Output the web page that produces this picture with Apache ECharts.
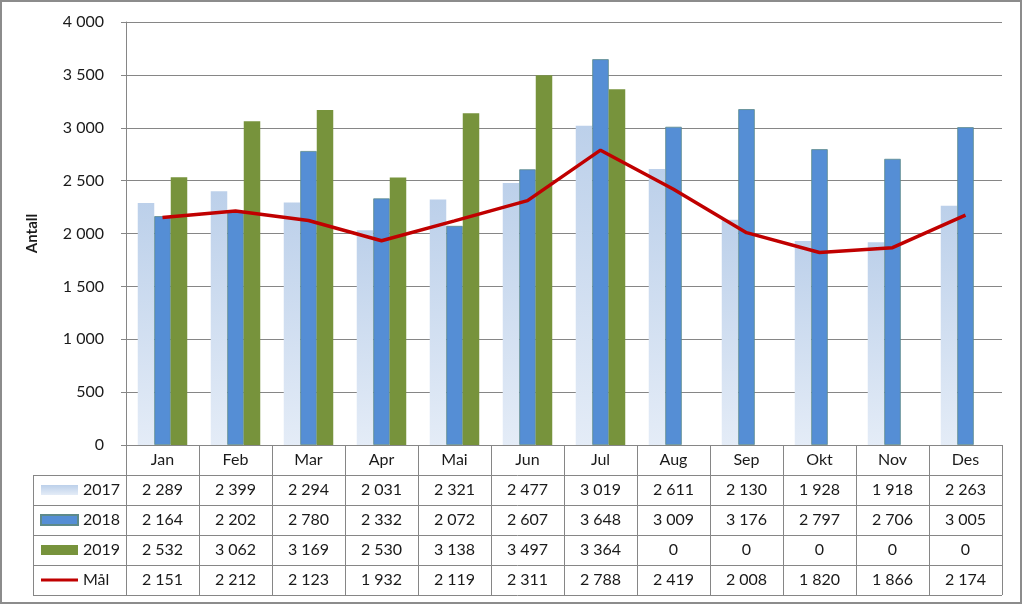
<!DOCTYPE html>
<html>
<head>
<meta charset="utf-8">
<script src="https://cdn.jsdelivr.net/npm/echarts@6/dist/echarts.min.js"></script>
<style>
html,body{margin:0;padding:0;background:#fff;}
#c{width:1024px;height:606px;}
</style>
</head>
<body>
<div id="c"></div>
<script>
const months = ['Jan','Feb','Mar','Apr','Mai','Jun','Jul','Aug','Sep','Okt','Nov','Des'];
const s2017 = [2289,2399,2294,2031,2321,2477,3019,2611,2130,1928,1918,2263];
const s2018 = [2164,2202,2780,2332,2072,2607,3648,3009,3176,2797,2706,3005];
const s2019 = [2532,3062,3169,2530,3138,3497,3364,0,0,0,0,0];
const maal  = [2151,2212,2123,1932,2119,2311,2788,2419,2008,1820,1866,2174];
const yTicks = [0,500,1000,1500,2000,2500,3000,3500,4000];

const fmt = n => String(n).replace(/\B(?=(\d{3})+(?!\d))/g, '\u00a0');
const FONT = 'Lato';
const GREY = '#868686';
const TXT = '#1a1a1a';

const chart = echarts.init(document.getElementById('c'), null, {renderer:'canvas'});

const tableLines = [];
[475.5,505.5,535.5,565.5,595.5].forEach(y => {
  tableLines.push({type:'line', shape:{x1:33, y1:y, x2:1002, y2:y}, style:{stroke:GREY, lineWidth:1}, silent:true});
});
tableLines.push({type:'line', shape:{x1:33.5, y1:475, x2:33.5, y2:596}, style:{stroke:GREY, lineWidth:1}, silent:true});
tableLines.push({type:'rect', shape:{x:1, y:1, width:1020, height:602}, style:{fill:null, stroke:'#8c8c8c', lineWidth:2}, silent:true});

chart.setOption({
  animation:false,
  textStyle:{fontFamily:FONT},
  grid:{left:126, right:22, top:22, bottom:161, containLabel:false},
  legend:{
    orient:'vertical', left:40, top:480, itemWidth:37, itemHeight:10, itemGap:10, padding:0,
    selectedMode:false,
    textStyle:{fontFamily:FONT, fontSize:16, color:TXT, lineHeight:20},
    data:[{name:'2017', icon:'rect'},{name:'2018', icon:'rect'},{name:'2019', icon:'rect'},
          {name:'Mål', icon:'path://M0,0 H40 V3.5 H0 Z', itemStyle:{color:'#c00000'}}]
  },
  xAxis:{
    type:'category', data:months,
    axisLine:{show:true, lineStyle:{color:GREY, width:1}},
    axisTick:{show:true, length:150, interval:0, alignWithLabel:false, lineStyle:{color:GREY, width:1}},
    axisLabel:{
      interval:0, margin:0, lineHeight:30, fontSize:16, color:TXT, fontFamily:FONT,
      formatter:(v, i) => [months[i], fmt(s2017[i]), fmt(s2018[i]), fmt(s2019[i]), fmt(maal[i])].join('\n')
    },
    splitLine:{show:false}
  },
  yAxis:{
    type:'value', min:yTicks[0], max:yTicks[yTicks.length-1], interval:500,
    name:'Antall', nameLocation:'middle', nameRotate:90, nameGap:86,
    nameTextStyle:{fontFamily:FONT, fontSize:15, fontWeight:'bold', color:TXT},
    axisLine:{show:true, lineStyle:{color:GREY, width:1}},
    axisTick:{show:true, length:5, lineStyle:{color:GREY}},
    axisLabel:{margin:22, fontSize:16, color:TXT, fontFamily:FONT, formatter:v => fmt(v)},
    splitLine:{show:true, lineStyle:{color:GREY, width:1}}
  },
  series:[
    {name:'2017', type:'bar', data:s2017, barWidth:16.5, barGap:'0%',
     itemStyle:{color:new echarts.graphic.LinearGradient(0,0,0,1,[{offset:0,color:'#bcd0ea'},{offset:1,color:'#e4ecf7'}])}},
    {name:'2018', type:'bar', data:s2018, barWidth:16.5, barGap:'0%',
     itemStyle:{color:'#558ed5', borderColor:'#5d8a8a', borderWidth:0.8}},
    {name:'2019', type:'bar', data:s2019, barWidth:16.5, barGap:'0%',
     itemStyle:{color:'#77933c'}},
    {name:'Mål', type:'line', data:maal, symbol:'none', z:5,
     lineStyle:{color:'#c00000', width:3.5}, itemStyle:{color:'#c00000'}}
  ],
  graphic:tableLines
});
</script>
</body>
</html>
